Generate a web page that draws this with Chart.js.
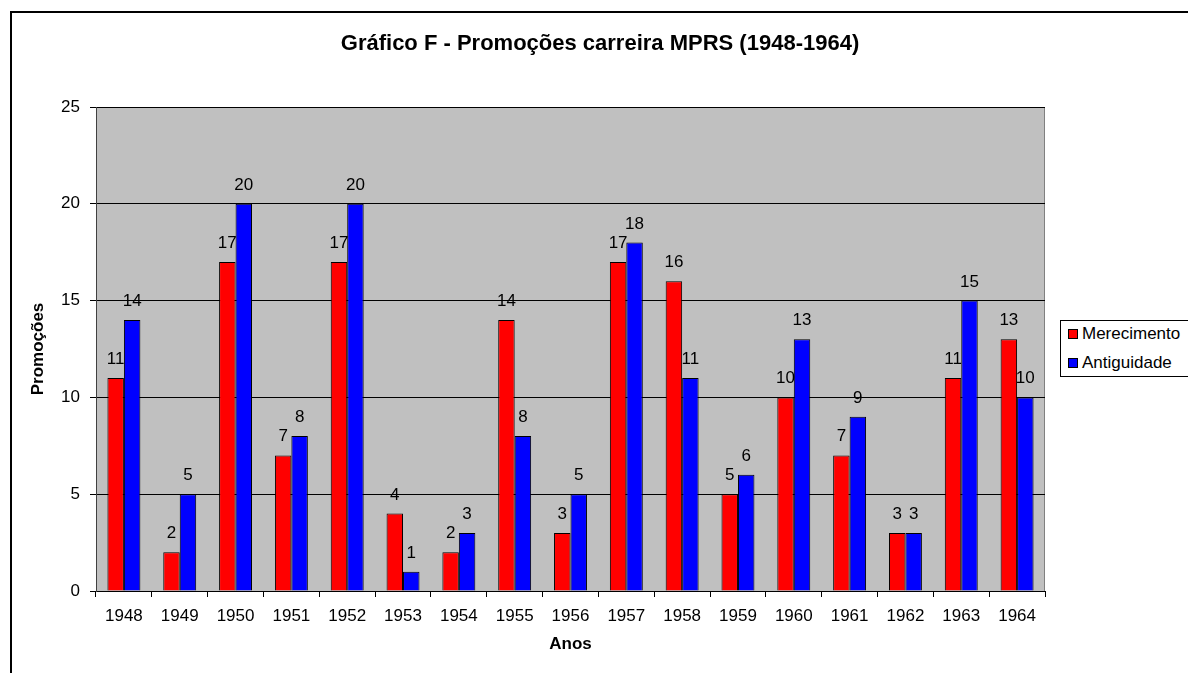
<!DOCTYPE html>
<html>
<head>
<meta charset="utf-8">
<script src="https://cdn.jsdelivr.net/npm/chart.js@4"></script>
<style>
    html, body { margin: 0; padding: 0; background: #fff; }
    #wrap { position: relative; width: 1188px; height: 673px; }
    #frame { position: absolute; left: 10px; top: 11px; width: 1190px; height: 700px;
             border-left: 2px solid #000; border-top: 2px solid #000; box-sizing: border-box; }
    #legend { position: absolute; left: 1060px; top: 320px; width: 140px; height: 57px;
              border: 1px solid #000; background: #fff; box-sizing: border-box;
              font: 17px "Liberation Sans", Arial, sans-serif; }
    #legend div { position: absolute; left: 7px; white-space: nowrap; line-height: 20px; }
    #legend span { display: inline-block; width: 8px; height: 8px; border: 1px solid #000;
                   margin-right: 4px; vertical-align: 0px; }
</style>
</head>
<body>
<div id="wrap">
    <canvas id="chart" width="1188" height="673"></canvas>
    <div id="frame"></div>
    <div id="legend"></div>
</div>
<script>
const anos = ['1948', '1949', '1950', '1951', '1952', '1953', '1954', '1955', '1956',
              '1957', '1958', '1959', '1960', '1961', '1962', '1963', '1964'];
const merecimento = [11, 2, 17, 7, 17, 4, 2, 14, 3, 17, 16, 5, 10, 7, 3, 11, 13];
const antiguidade = [14, 5, 20, 8, 20, 1, 3, 8, 5, 18, 11, 6, 13, 9, 3, 15, 10];
const yTicks = [0, 5, 10, 15, 20, 25];

const seriesNames = ['Merecimento', 'Antiguidade'];
const seriesColors = ['#FF0000', '#0000FF'];

const FONT = '"Liberation Sans", Arial, sans-serif';

// gray plot background + outline
const plotBg = {
    id: 'plotBg',
    beforeDraw(chart) {
        const { ctx, chartArea: a } = chart;
        ctx.save();
        ctx.fillStyle = '#C0C0C0';
        ctx.fillRect(a.left, a.top, a.right - a.left, a.bottom - a.top);
        ctx.strokeStyle = '#808080';
        ctx.lineWidth = 1;
        ctx.strokeRect(a.left + 0.5, a.top + 0.5, a.right - a.left - 1, a.bottom - a.top);
        ctx.restore();
    }
};

// value labels above bars and the chart title
const labels = {
    id: 'labels',
    afterDatasetsDraw(chart) {
        const ctx = chart.ctx;
        ctx.save();
        ctx.fillStyle = '#000';
        ctx.font = '17px ' + FONT;
        ctx.textAlign = 'center';
        ctx.textBaseline = 'alphabetic';
        chart.data.datasets.forEach((ds, i) => {
            chart.getDatasetMeta(i).data.forEach((bar, j) => {
                ctx.fillText(ds.data[j], bar.x, bar.y - 14);
            });
        });
        ctx.font = 'bold 22px ' + FONT;
        ctx.textBaseline = 'middle';
        ctx.fillText('Gráfico F - Promoções carreira MPRS (1948-1964)', 600, 44);
        ctx.restore();
    }
};

new Chart(document.getElementById('chart'), {
    type: 'bar',
    data: {
        labels: anos,
        datasets: [
            { label: seriesNames[0], data: merecimento, backgroundColor: seriesColors[0] },
            { label: seriesNames[1], data: antiguidade, backgroundColor: seriesColors[1] }
        ]
    },
    options: {
        responsive: false,
        animation: false,
        layout: { padding: { left: 10, top: 107, right: 143, bottom: 0 } },
        datasets: {
            bar: { categoryPercentage: 0.59, barPercentage: 1, borderColor: '#000', borderWidth: 1 }
        },
        plugins: { legend: { display: false }, tooltip: { enabled: false } },
        scales: {
            x: {
                grid: { display: true, drawOnChartArea: false, drawTicks: true, tickLength: 6,
                        color: '#000', offset: true },
                border: { display: true, color: '#000' },
                ticks: { color: '#000', font: { family: FONT, size: 17 }, padding: 9, maxRotation: 0 },
                title: { display: true, text: 'Anos', color: '#000',
                         font: { family: FONT, size: 17, weight: 'bold' }, padding: { top: 4, bottom: 18 } },
                afterFit(scale) { scale.height = 82; }
            },
            y: {
                min: 0, max: 25,
                afterBuildTicks(scale) { scale.ticks = yTicks.map(v => ({ value: v })); },
                grid: { color: '#000', tickLength: 6, drawTicks: true },
                border: { display: true, color: '#404040' },
                ticks: { color: '#000', font: { family: FONT, size: 17 }, padding: 10 },
                title: { display: true, text: 'Promoções', color: '#000',
                         font: { family: FONT, size: 17, weight: 'bold' }, padding: { top: 18 } },
                afterFit(scale) { scale.width = 86; }
            }
        }
    },
    plugins: [plotBg, labels]
});

const legend = document.getElementById('legend');
seriesNames.forEach((name, i) => {
    const item = document.createElement('div');
    item.style.top = (i === 0 ? 3 : 32) + 'px';
    item.innerHTML = '<span style="background:' + seriesColors[i] + '"></span>' + name;
    legend.appendChild(item);
});
</script>
</body>
</html>
